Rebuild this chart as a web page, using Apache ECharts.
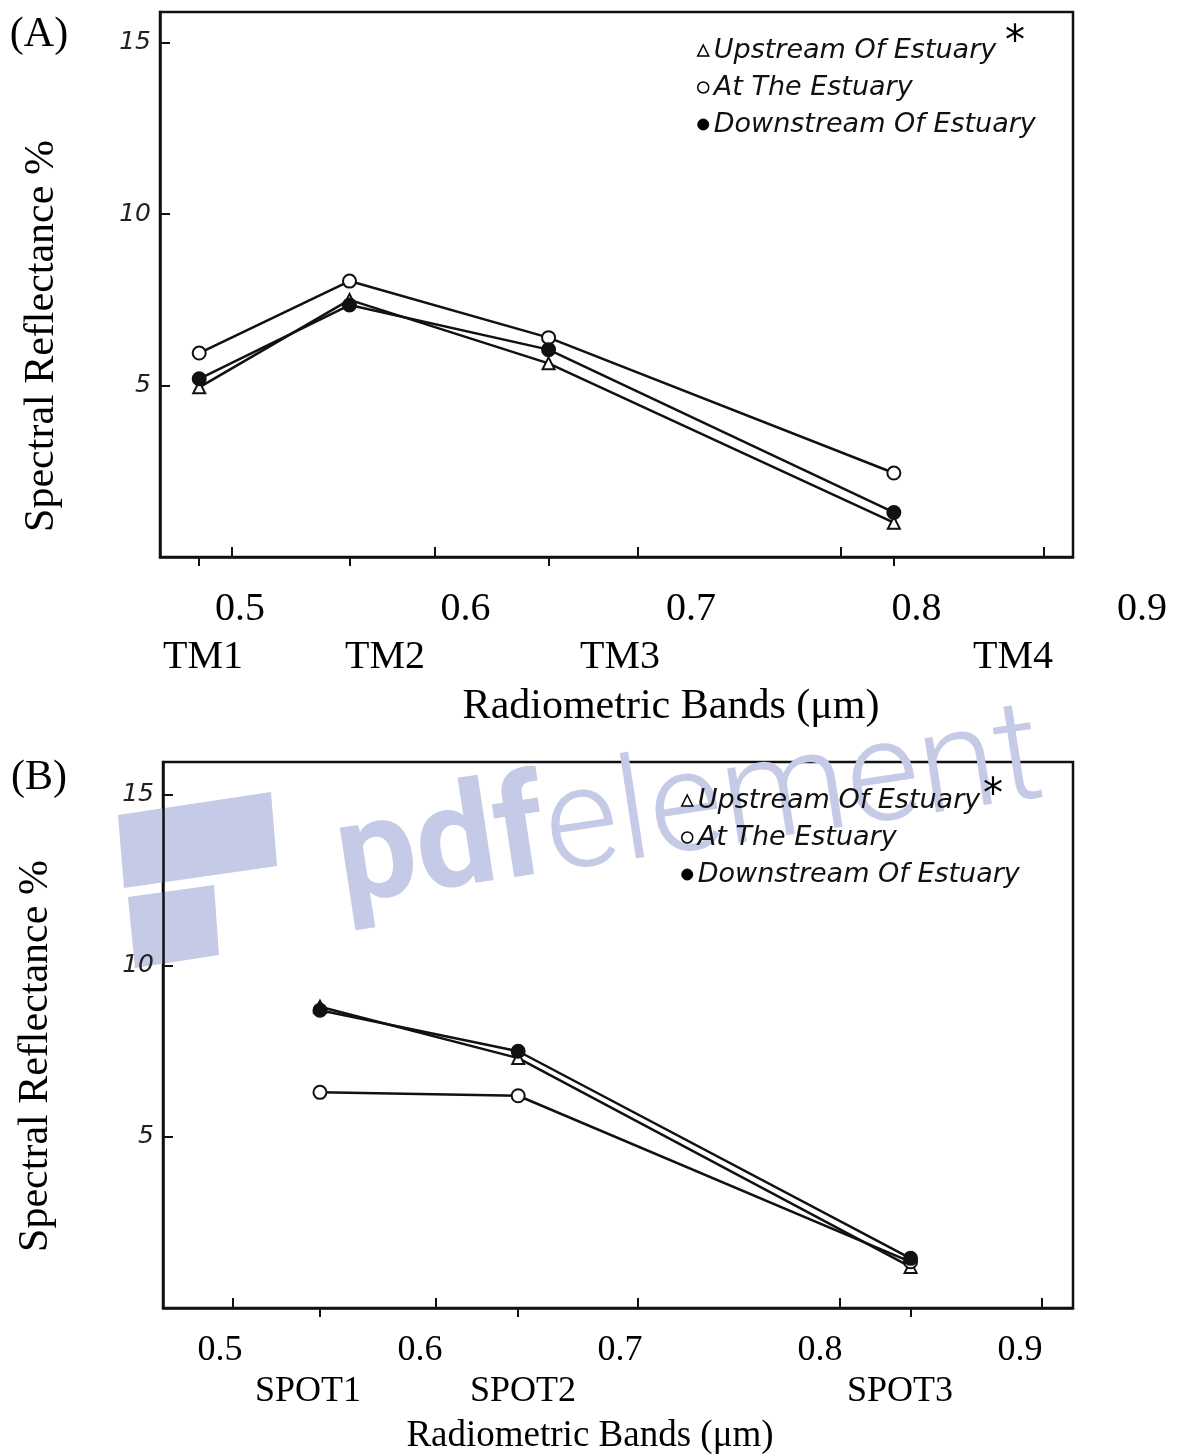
<!DOCTYPE html>
<html>
<head>
<meta charset="utf-8">
<style>
  html, body { margin: 0; padding: 0; background: #fff; }
  #chart { width: 1177px; height: 1456px; }
</style>
<script src="https://cdn.jsdelivr.net/npm/echarts@6/dist/echarts.min.js"></script>
</head>
<body>
<div id="chart"></div>
<script>
// series names (legend)
const seriesNames = ['Upstream Of Estuary', 'At The Estuary', 'Downstream Of Estuary']

// (A) Landsat TM bands, centre wavelength in µm
const tmBands = ['TM1', 'TM2', 'TM3', 'TM4']
const tmWave = [0.484, 0.558, 0.656, 0.826]
const tmUpstream = [4.95, 7.5, 5.65, 1.0]
const tmAtEstuary = [5.95, 8.05, 6.4, 2.45]
const tmDownstream = [5.2, 7.35, 6.05, 1.3]

// (B) SPOT XS bands
const spotBands = ['SPOT1', 'SPOT2', 'SPOT3']
const spotWave = [0.543, 0.641, 0.835]
const spotUpstream = [8.8, 7.3, 1.2]
const spotAtEstuary = [6.3, 6.2, 1.35]
const spotDownstream = [8.7, 7.5, 1.45]

// tick values
const waveTicks = [0.5, 0.6, 0.7, 0.8, 0.9]
const reflTicks = [5, 10, 15]

// where the typed band names sit under each panel (px)
const tmLabelX = [203, 385, 620, 1013]
const spotLabelX = [308, 523, 900]

const SERIF = '"Liberation Serif", "DejaVu Serif", serif'
const HAND = '"DejaVu Sans", sans-serif'
const INK = '#111'
const WATERMARK = '#c5cae7'

const chart = echarts.init(document.getElementById('chart'))

const toPoints = (xs, ys) => xs.map((x, i) => [x, ys[i]])

const plotX = (gridIndex, min, max) => ({
  type: 'value', gridIndex, min, max, position: 'bottom',
  axisLine: { onZero: false, lineStyle: { color: INK, width: 2.5 } },
  axisTick: { inside: true, length: 10, customValues: waveTicks, lineStyle: { color: INK, width: 2 } },
  axisLabel: { show: false },
  splitLine: { show: false }
})

const bandX = (gridIndex, min, max, values) => ({
  type: 'value', gridIndex, min, max, position: 'bottom',
  axisLine: { show: false, onZero: false },
  axisTick: { inside: false, length: 9, customValues: values, lineStyle: { color: INK, width: 2 } },
  axisLabel: { show: false },
  splitLine: { show: false }
})

const labelX = (gridIndex, size, margin) => ({
  type: 'value', gridIndex, min: 0.5, max: 0.9, interval: 0.1,
  axisLine: { show: false }, axisTick: { show: false }, splitLine: { show: false },
  axisLabel: {
    margin, color: '#000', fontFamily: SERIF, fontSize: size,
    formatter: v => v.toFixed(1)
  }
})

const plotY = (gridIndex, max) => ({
  type: 'value', gridIndex, min: 0, max,
  axisLine: { lineStyle: { color: INK, width: 2.5 } },
  axisTick: { inside: true, length: 10, customValues: reflTicks, lineStyle: { color: INK, width: 2 } },
  axisLabel: {
    customValues: reflTicks, margin: 9, color: '#222',
    fontFamily: HAND, fontStyle: 'italic', fontSize: 25
  },
  splitLine: { show: false }
})

const hiddenY = gridIndex => ({ type: 'value', gridIndex, show: false })

const lineSeries = (name, x, y, xAxisIndex, yAxisIndex, symbol) => ({
  name, type: 'line', xAxisIndex, yAxisIndex,
  data: toPoints(x, y),
  symbol, symbolSize: symbol === 'emptyTriangle' ? 12 : 13,
  lineStyle: { color: INK, width: 2.5 },
  itemStyle: { color: INK, borderColor: INK, borderWidth: 2 },
  z: symbol === 'circle' ? 4 : 3
})

const legendBlock = (left, top) => ({
  orient: 'vertical', left, top, padding: 0,
  itemWidth: 11, itemHeight: 11, itemGap: 10,
  selectedMode: false,
  textStyle: { fontFamily: HAND, fontStyle: 'italic', fontSize: 27, color: '#111' },
  data: [
    { name: seriesNames[0], icon: 'triangle', itemStyle: { color: '#fff', borderColor: '#000', borderWidth: 1.5 } },
    { name: seriesNames[1], icon: 'circle', itemStyle: { color: '#fff', borderColor: '#000', borderWidth: 1.5 } },
    { name: seriesNames[2], icon: 'circle', itemStyle: { color: '#000', borderColor: '#000', borderWidth: 1 } }
  ]
})

const text = (str, x, y, size, extra) => ({
  type: 'text', x, y, z: 10,
  style: Object.assign({
    text: str, fill: '#000', font: size + 'px ' + SERIF,
    align: 'center', verticalAlign: 'middle'
  }, extra || {})
})

const yTitle = (x, y) => Object.assign(text('Spectral Reflectance %', x, y, 42), { rotation: Math.PI / 2 })

const graphics = [
  // watermark left behind on the scan
  {
    type: 'group', z: -10, silent: true,
    children: [
      { type: 'polygon', shape: { points: [[118, 815], [271, 792], [277, 866], [124, 888]] }, style: { fill: WATERMARK } },
      { type: 'polygon', shape: { points: [[128, 897], [214, 885], [219, 955], [135, 968]] }, style: { fill: WATERMARK } },
      {
        type: 'text', x: 338, y: 868, rotation: 0.152,
        style: {
          text: '{a|pdf}{b|element}', fill: WATERMARK, verticalAlign: 'middle', align: 'left',
          rich: {
            a: { fontFamily: 'Roboto', fontWeight: 'bold', fontSize: 142, fill: WATERMARK },
            b: { fontFamily: 'Roboto', fontWeight: 300, fontSize: 142, fill: WATERMARK }
          }
        }
      }
    ]
  },
  text('(A)', 39, 35, 42),
  text('(B)', 39, 778, 42),
  yTitle(42, 336),
  yTitle(36, 1056),
  text('Radiometric Bands (\u03bcm)', 671, 707, 42),
  text('Radiometric Bands (\u03bcm)', 590, 1436, 37),
  text('*', 1015, 44, 40, { font: '40px ' + HAND }),
  text('*', 993, 797, 40, { font: '40px ' + HAND })
].concat(
  tmBands.map((b, i) => text(b, tmLabelX[i], 657, 40)),
  spotBands.map((b, i) => text(b, spotLabelX[i], 1392, 36))
)

const option = {
  animation: false,
  backgroundColor: '#fff',
  grid: [
    { left: 160, top: 12, width: 913, height: 545, show: true, borderColor: INK, borderWidth: 2.5 },
    { left: 240, top: 580, width: 902, height: 1 },
    { left: 163, top: 762, width: 910, height: 546, show: true, borderColor: INK, borderWidth: 2.5 },
    { left: 220, top: 1322, width: 800, height: 1 }
  ],
  xAxis: [
    plotX(0, 0.4647, 0.9142),
    bandX(0, 0.4647, 0.9142, tmWave),
    labelX(1, 40, 8),
    plotX(2, 0.4654, 0.9153),
    bandX(2, 0.4654, 0.9153, spotWave),
    labelX(3, 36, 10)
  ],
  yAxis: [
    plotY(0, 15.9),
    hiddenY(1),
    plotY(2, 15.95),
    hiddenY(3)
  ],
  legend: [legendBlock(697, 37), legendBlock(681, 787)],
  series: [
    lineSeries(seriesNames[0], tmWave, tmUpstream, 0, 0, 'emptyTriangle'),
    lineSeries(seriesNames[1], tmWave, tmAtEstuary, 0, 0, 'emptyCircle'),
    lineSeries(seriesNames[2], tmWave, tmDownstream, 0, 0, 'circle'),
    lineSeries(seriesNames[0], spotWave, spotUpstream, 3, 2, 'emptyTriangle'),
    lineSeries(seriesNames[1], spotWave, spotAtEstuary, 3, 2, 'emptyCircle'),
    lineSeries(seriesNames[2], spotWave, spotDownstream, 3, 2, 'circle')
  ],
  graphic: graphics
}

chart.setOption(option)
window.addEventListener('resize', () => chart.resize())
</script>
</body>
</html>
